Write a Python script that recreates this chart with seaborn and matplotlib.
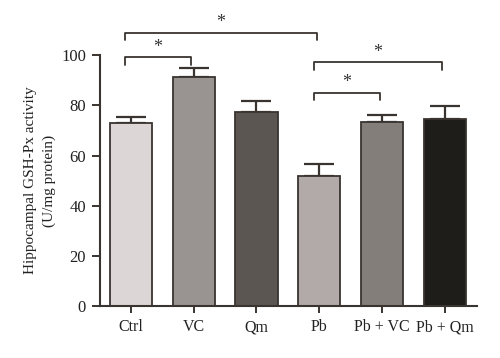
import numpy as np
import pandas as pd
import matplotlib
matplotlib.use("Agg")
import matplotlib.pyplot as plt
import seaborn as sns

# datos
grupos = ["Ctrl", "VC", "Qm", "Pb", "Pb + VC", "Pb + Qm"]
medias = [73.0, 91.2, 77.4, 51.9, 73.4, 74.6]
errores = [2.4, 3.6, 4.3, 4.8, 2.8, 5.2]
colores = ["#ddd5d5", "#9b928f", "#5d5551", "#b4a9a7", "#867d79", "#1e1d1a"]

# comparaciones significativas: (grupo i, grupo j, altura, texto)
comparaciones = [
    (0, 3, 109.0, "*"),
    (0, 1, 99.2, "*"),
    (3, 5, 97.2, "*"),
    (3, 4, 85.0, "*"),
]

sns.set_style("ticks")
plt.rcParams["font.family"] = ["Liberation Serif", "DejaVu Serif"]
borde = "#3a3430"

df = pd.DataFrame({"grupo": grupos, "media": medias})

fig = plt.figure(figsize=(5, 3.58), dpi=100)
ax = fig.add_axes([0.2, 0.145, 0.754, 0.701])

x = np.arange(len(grupos))
ax.errorbar(x, medias, yerr=[np.zeros(len(errores)), errores], fmt="none",
            ecolor=borde, elinewidth=1.6, capsize=10.5, capthick=1.6, zorder=1)

sns.barplot(data=df, x="grupo", y="media", hue="grupo", palette=colores,
            dodge=False, legend=False, width=0.67, edgecolor=borde,
            linewidth=1.3, errorbar=None, ax=ax, zorder=2)

ax.set_xlim(-0.49, 5.51)
ax.set_ylim(0, 100)
ax.set_yticks([0, 20, 40, 60, 80, 100])
ax.set_xlabel("")
ax.set_ylabel("Hippocampal GSH-Px activity\n(U/mg protein)", fontsize=11,
              color="#222222", labelpad=4, linespacing=1.55)
ax.tick_params(axis="y", direction="out", length=6, width=1.4,
               color=borde, labelsize=12, labelcolor="#222222", pad=4)
ax.tick_params(axis="x", direction="out", length=5, width=1.4,
               color=borde, labelsize=11.5, labelcolor="#222222", pad=13)
for lbl in ax.get_xticklabels():
    lbl.set_verticalalignment("baseline")
for lado in ["left", "bottom"]:
    ax.spines[lado].set_color(borde)
    ax.spines[lado].set_linewidth(1.5)
sns.despine(ax=ax)

# corchetes de significancia
for i, j, h, txt in comparaciones:
    xi, xj = x[i] - 0.09, x[j] - 0.04
    ax.plot([xi, xi, xj, xj], [h - 3, h, h, h - 3], color=borde, lw=1.3,
            clip_on=False)
    ax.text((xi + xj) / 2, h + 0.6, txt, ha="center", va="bottom",
            fontsize=13, color="#333333", clip_on=False)

fig.savefig("out.png", dpi=100)
